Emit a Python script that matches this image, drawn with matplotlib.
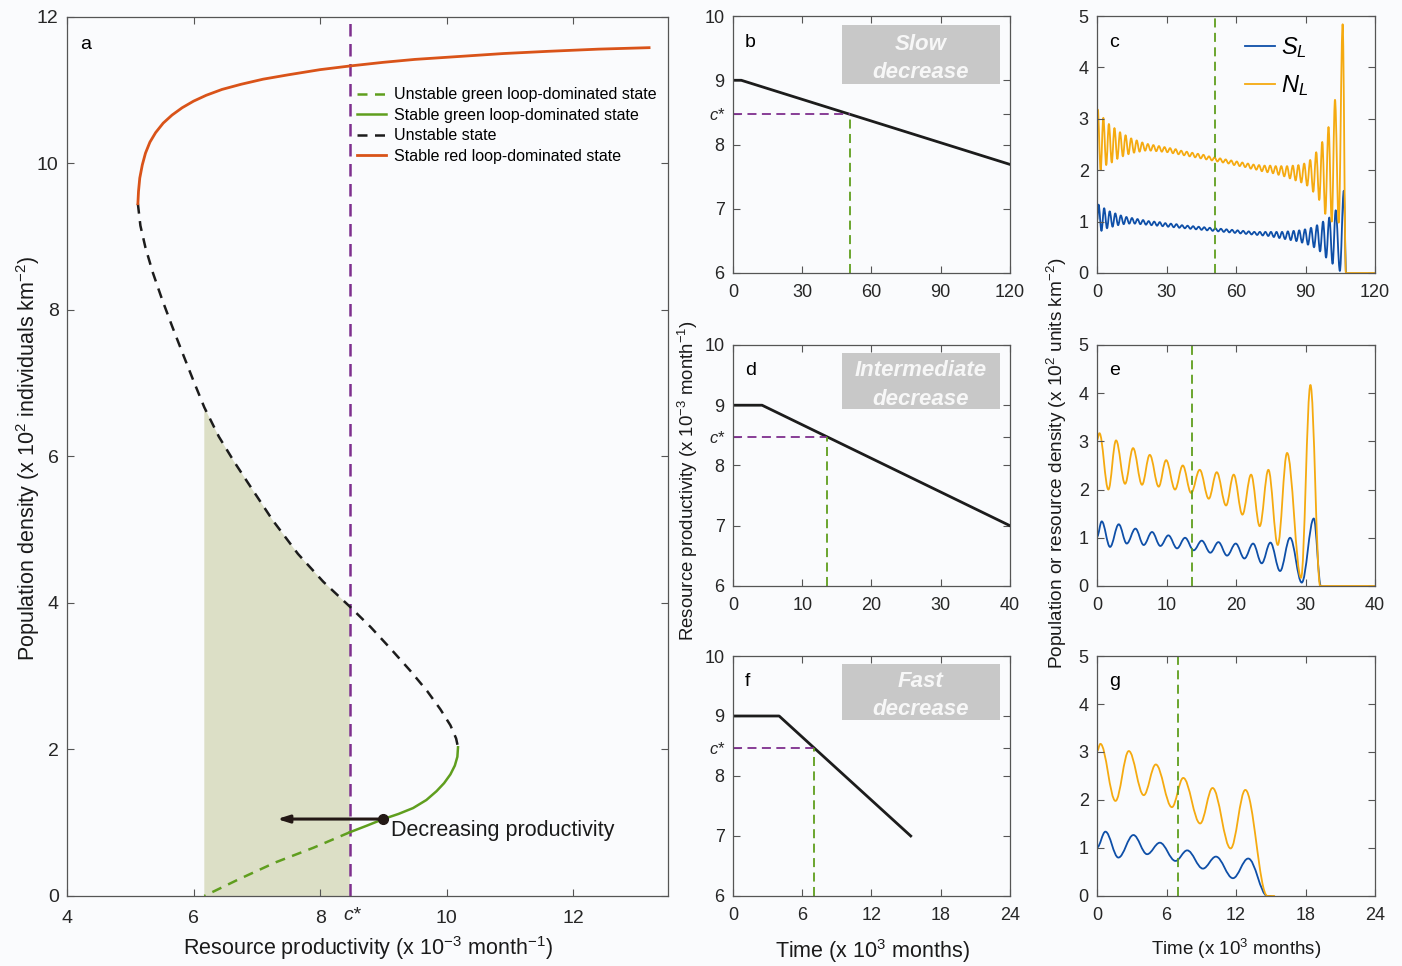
import matplotlib
matplotlib.use("Agg")
import matplotlib.pyplot as plt
from matplotlib.path import Path
from matplotlib.patches import PathPatch, Polygon

plt.rcParams['font.family'] = ['Liberation Sans', 'DejaVu Sans']
plt.rcParams['mathtext.fontset'] = 'custom'
plt.rcParams['mathtext.rm'] = 'Liberation Sans'
plt.rcParams['mathtext.it'] = 'Liberation Sans:italic'

# ---------------- data ----------------
c_star = 8.47

# panel a: equilibrium branches (productivity, density)
red_x = [5.12, 5.13, 5.15, 5.19, 5.24, 5.31, 5.40, 5.52, 5.66, 5.82, 6.00, 6.20, 6.45,
         6.75, 7.10, 7.50, 8.00, 8.47, 9.00, 9.50, 10.2, 10.9, 11.6, 12.4, 13.2]
red_y = [9.45, 9.62, 9.80, 9.98, 10.14, 10.29, 10.42, 10.55, 10.66, 10.76, 10.85, 10.93, 11.01,
         11.08, 11.15, 11.21, 11.28, 11.33, 11.38, 11.42, 11.46, 11.50, 11.53, 11.56, 11.58]
uns_x = [5.12, 5.16, 5.24, 5.36, 5.50, 5.66, 5.84, 6.00, 6.17, 6.40, 6.64, 6.86, 7.25, 7.65,
         8.05, 8.47, 8.80, 9.11, 9.42, 9.69, 9.90, 10.06, 10.15, 10.18]
uns_y = [9.45, 9.15, 8.85, 8.50, 8.15, 7.78, 7.38, 7.03, 6.67, 6.27, 5.93, 5.64, 5.13, 4.67,
         4.29, 3.95, 3.67, 3.38, 3.08, 2.80, 2.55, 2.33, 2.15, 2.03]
grn_x = [10.18, 10.17, 10.13, 10.06, 9.96, 9.84, 9.68, 9.47, 9.24, 9.00, 8.74, 8.47]
grn_y = [2.03, 1.90, 1.78, 1.66, 1.54, 1.43, 1.31, 1.20, 1.12, 1.05, 0.96, 0.87]
grn_dash_x = [8.47, 7.90, 7.30, 6.72, 6.17]
grn_dash_y = [0.87, 0.66, 0.46, 0.23, 0.0]
shade_left = 6.17
arrow_start = (9.0, 1.05)
arrow_end = (7.32, 1.05)

# panels b, d, f: productivity vs time
b_t = [0, 3.6, 120]
b_p = [9, 9, 7.69]
b_cross = 50.8
d_t = [0, 4.2, 40]
d_p = [9, 9, 7.0]
d_cross = 13.6
f_t = [0, 4.0, 15.4]
f_p = [9, 9, 7.0]
f_cross = 7.0

# panel c: extrema of N_L and S_L (slow decrease)
c_tN = [0, 0.3, 1.55, 2.7, 3.95, 5.1, 6.35, 7.5, 8.75, 9.9, 11.15, 12.3, 13.55, 14.7, 15.95,
        17.1, 18.35, 19.5, 20.75, 21.9, 23.15, 24.3, 25.55, 26.7, 27.95, 29.1, 30.35, 31.5,
        32.75, 33.9, 35.15, 36.3, 37.55, 38.7, 39.95, 41.1, 42.35, 43.5, 44.75, 45.9, 47.15,
        48.3, 49.55, 50.7, 51.95, 53.1, 54.35, 55.5, 56.75, 57.9, 59.15, 60.3, 61.55, 62.7,
        63.95, 65.1, 66.35, 67.5, 68.75, 69.9, 71.15, 72.3, 73.55, 74.7, 75.95, 77.1, 78.35,
        79.5, 80.8, 82.0, 83.25, 84.5, 85.7, 86.9, 88.15, 89.4, 90.7, 92.0, 93.3, 94.6, 95.9,
        97.2, 98.5, 99.9, 101.3, 102.7, 104.3, 106.0, 107.4, 120]
c_N = [3.05, 3.18, 2.00, 3.02, 2.10, 2.90, 2.15, 2.82, 2.22, 2.74, 2.27, 2.68, 2.31, 2.62, 2.34,
       2.58, 2.36, 2.54, 2.38, 2.51, 2.38, 2.49, 2.37, 2.47, 2.36, 2.45, 2.35, 2.43,
       2.33, 2.41, 2.31, 2.38, 2.29, 2.36, 2.27, 2.34, 2.25, 2.32, 2.23, 2.30, 2.21,
       2.27, 2.19, 2.25, 2.17, 2.23, 2.15, 2.21, 2.13, 2.19, 2.10, 2.17, 2.08, 2.15,
       2.06, 2.13, 2.03, 2.11, 2.01, 2.10, 1.98, 2.09, 1.96, 2.09, 1.94, 2.08, 1.91,
       2.08, 1.88, 2.08, 1.84, 2.09, 1.80, 2.10, 1.76, 2.13, 1.70, 2.20, 1.58, 2.35, 1.42,
       2.55, 1.15, 2.84, 1.00, 3.37, 0.98, 4.84, 0.0, 0.0]
c_tS = [0, 0.65, 1.9, 3.05, 4.3, 5.45, 6.7, 7.85, 9.1, 10.25, 11.5, 12.65, 13.9, 15.05, 16.3,
        17.45, 18.7, 19.85, 21.1, 22.25, 23.5, 24.65, 25.9, 27.05, 28.3, 29.45, 30.7, 31.85,
        33.1, 34.25, 35.5, 36.65, 37.9, 39.05, 40.3, 41.45, 42.7, 43.85, 45.1, 46.25, 47.5,
        48.65, 49.9, 51.05, 52.3, 53.45, 54.7, 55.85, 57.1, 58.25, 59.5, 60.65, 61.9, 63.05,
        64.3, 65.45, 66.7, 67.85, 69.1, 70.25, 71.5, 72.65, 73.9, 75.05, 76.3, 77.45, 78.7,
        79.85, 81.15, 82.35, 83.6, 84.85, 86.05, 87.25, 88.5, 89.75, 91.05, 92.35, 93.65,
        94.95, 96.25, 97.55, 98.85, 100.25, 101.65, 103.0, 104.8, 106.5, 107.5]
c_S = [1.02, 1.33, 0.82, 1.26, 0.87, 1.20, 0.90, 1.16, 0.93, 1.12, 0.95, 1.09, 0.96, 1.07, 0.96,
       1.05, 0.95, 1.03, 0.94, 1.01, 0.93, 1.00, 0.92, 0.99, 0.91, 0.97, 0.90, 0.96,
       0.89, 0.95, 0.88, 0.93, 0.87, 0.92, 0.86, 0.91, 0.85, 0.90, 0.84, 0.89, 0.83,
       0.88, 0.82, 0.87, 0.81, 0.86, 0.80, 0.85, 0.79, 0.84, 0.78, 0.83, 0.77, 0.82,
       0.76, 0.81, 0.75, 0.80, 0.74, 0.80, 0.73, 0.80, 0.72, 0.80, 0.70, 0.80, 0.68,
       0.80, 0.66, 0.81, 0.64, 0.82, 0.62, 0.83, 0.59, 0.85, 0.55, 0.88, 0.50,
       0.93, 0.42, 1.00, 0.30, 1.08, 0.18, 1.22, 0.04, 1.60, 0.0]

# panel e: intermediate decrease
e_tN = [0, 0.34, 1.63, 2.73, 4.03, 5.18, 6.47, 7.58, 8.87, 9.93, 11.22, 12.33, 13.53, 14.77,
        16.07, 17.22, 18.56, 19.66, 20.91, 22.16, 23.4, 24.65, 26.0, 27.34, 29.35, 30.7,
        32.1, 40]
e_N = [3.03, 3.17, 2.00, 3.02, 2.12, 2.86, 2.10, 2.72, 2.06, 2.61, 2.00, 2.50, 1.93, 2.41,
       1.81, 2.36, 1.67, 2.31, 1.48, 2.31, 1.24, 2.41, 0.85, 2.76, 0.17, 4.17,
       0.0, 0.0]
e_tS = [0, 0.67, 1.87, 3.12, 4.27, 5.52, 6.71, 7.91, 9.11, 10.26, 11.51, 12.66, 13.9, 15.06,
        16.3, 17.46, 18.7, 19.95, 21.2, 22.45, 23.69, 24.94, 26.33, 27.77, 29.45, 31.18, 32.2]
e_S = [1.02, 1.34, 0.81, 1.28, 0.88, 1.19, 0.85, 1.12, 0.83, 1.05, 0.78, 1.00, 0.74, 0.94,
       0.69, 0.91, 0.63, 0.88, 0.57, 0.88, 0.47, 0.90, 0.31, 1.00, 0.07, 1.40, 0.0]

# panel g: fast decrease
g_tN = [0, 0.29, 1.59, 2.74, 4.03, 5.07, 6.46, 7.44, 8.9, 9.97, 11.53, 12.8, 14.7, 15.3]
g_N = [3.02, 3.17, 1.98, 3.02, 2.10, 2.74, 1.85, 2.46, 1.51, 2.25, 0.99, 2.21, 0.0, 0.0]
g_tS = [0, 0.72, 1.84, 3.14, 4.32, 5.42, 6.77, 7.78, 9.14, 10.26, 11.73, 13.05, 14.7, 15.0]
g_S = [1.01, 1.34, 0.80, 1.27, 0.87, 1.11, 0.73, 0.95, 0.57, 0.82, 0.37, 0.78, 0.0, 0.0]

# ---------------- style ----------------
bg = '#fafbfd'
red = '#d95319'
green = '#5f9e1e'
purple = '#7e2f8e'
blue = '#0e4fa8'
orange = '#f5aa10'
dark = '#1c1c1c'


def style(ax, fs, pad):
    ax.set_facecolor(bg)
    ax.tick_params(direction='in', top=True, right=True, length=5, width=0.8,
                   labelsize=fs, color='#555555', labelcolor='#262626')
    ax.tick_params(axis='x', pad=pad)
    ax.tick_params(axis='y', pad=6)
    for s in ax.spines.values():
        s.set_color('#555555')
        s.set_linewidth(0.9)


def wave(ax, t, v, color, lw=1.3):
    # smooth curve through the read extrema (flat tangents at each point)
    verts = [(t[0], v[0])]
    codes = [Path.MOVETO]
    for i in range(1, len(t)):
        dx = t[i] - t[i - 1]
        verts += [(t[i - 1] + 0.364 * dx, v[i - 1]), (t[i] - 0.364 * dx, v[i]), (t[i], v[i])]
        codes += [Path.CURVE4] * 3
    ax.add_patch(PathPatch(Path(verts, codes), fill=False, edgecolor=color, lw=lw,
                           capstyle='round', joinstyle='round'))


fig = plt.figure(figsize=(14.02, 9.66), dpi=100, facecolor=bg)

# ---------------- panel a ----------------
ax = fig.add_axes([0.0478, 0.0725, 0.4287, 0.910])
style(ax, 14, 10)
shade = [(shade_left, 0)]
for x, y in zip(uns_x, uns_y):
    if shade_left <= x <= c_star:
        shade.append((x, y))
shade += [(c_star, 0)]
ax.add_patch(Polygon(shade, closed=True, facecolor='#dcdfc6', edgecolor='none', zorder=1))
ax.axvline(c_star, color=purple, lw=1.8, ls=(0, (5, 3)), zorder=2)
l1, = ax.plot(grn_dash_x, grn_dash_y, color=green, lw=1.8, ls=(0, (4, 3)), zorder=3)
l2, = ax.plot(grn_x, grn_y, color=green, lw=1.8, zorder=3)
l3, = ax.plot(uns_x, uns_y, color=dark, lw=1.8, ls=(0, (4, 3)), zorder=3)
l4, = ax.plot(red_x, red_y, color=red, lw=2.0, zorder=3)
ax.annotate('', xy=arrow_end, xytext=arrow_start,
            arrowprops=dict(arrowstyle='-|>,head_length=0.7,head_width=0.22',
                            color='#231815', lw=2.2, shrinkA=0, shrinkB=0), zorder=4)
ax.plot([arrow_start[0]], [arrow_start[1]], 'o', color='#231815', ms=7, zorder=5)
ax.text(arrow_start[0] + 0.12, arrow_start[1] - 0.16, 'Decreasing productivity',
        fontsize=15.5, color='#1a1a1a', va='center', ha='left')
ax.legend([l1, l2, l3, l4],
          ['Unstable green loop-dominated state', 'Stable green loop-dominated state',
           'Unstable state', 'Stable red loop-dominated state'],
          loc='upper left', bbox_to_anchor=(0.483, 0.92), frameon=False, fontsize=11.5,
          handlelength=1.8, handletextpad=0.5, labelspacing=0.35, borderpad=0,
          borderaxespad=0)
ax.set_xlim(4, 13.5)
ax.set_ylim(0, 12)
ax.set_xticks([4, 6, 8, 10, 12])
ax.set_yticks([0, 2, 4, 6, 8, 10, 12])
ax.text(c_star + 0.03, -0.155, 'c*', fontsize=14, style='italic', ha='center', va='top',
        color='#262626')
ax.text(0.022, 0.978, 'a', transform=ax.transAxes, fontsize=14, va='top', ha='left')

# ---------------- panels b, d, f ----------------
mid = [
    (0.7174, 0.2660, b_t, b_p, b_cross, [0, 30, 60, 90, 120], 'b', 'Slow\ndecrease'),
    (0.3934, 0.2495, d_t, d_p, d_cross, [0, 10, 20, 30, 40], 'd', 'Intermediate\ndecrease'),
    (0.0725, 0.2484, f_t, f_p, f_cross, [0, 6, 12, 18, 24], 'f', 'Fast\ndecrease'),
]
for bottom, height, t, p, cross, xt, lab, box in mid:
    ax = fig.add_axes([0.5228, bottom, 0.1976, height])
    style(ax, 13, 8)
    ax.plot(t, p, color=dark, lw=2.0)
    ax.plot([0, cross], [c_star, c_star], color=purple, lw=1.3, ls=(0, (5, 3)))
    ax.plot([cross, cross], [6, c_star], color=green, lw=1.3, ls=(0, (5, 3)))
    ax.set_xlim(xt[0], xt[-1])
    ax.set_ylim(6, 10)
    ax.set_xticks(xt)
    ax.set_yticks([6, 7, 8, c_star, 9, 10])
    ax.set_yticklabels(['6', '7', '8', 'c*', '9', '10'])
    ax.get_yticklabels()[3].set_fontstyle('italic')
    ax.get_yticklabels()[3].set_fontsize(12)
    ax.text(0.043, 0.93, lab, transform=ax.transAxes, fontsize=14, va='top', ha='left')
    ax.add_patch(plt.Rectangle((0.392, 0.735), 0.572, 0.232, transform=ax.transAxes,
                               facecolor='#c8c8c8', edgecolor='none'))
    ax.text(0.678, 0.834, box, transform=ax.transAxes, fontsize=16, color='#f7f7f7',
            fontweight='bold', style='italic', ha='center', va='center', linespacing=1.45)

# ---------------- panels c, e, g ----------------
right = [
    (0.7174, 0.2660, c_tN, c_N, c_tS, c_S, b_cross, [0, 30, 60, 90, 120], 'c'),
    (0.3934, 0.2495, e_tN, e_N, e_tS, e_S, d_cross, [0, 10, 20, 30, 40], 'e'),
    (0.0725, 0.2484, g_tN, g_N, g_tS, g_S, f_cross, [0, 6, 12, 18, 24], 'g'),
]
for bottom, height, tN, N, tS, S, cross, xt, lab in right:
    ax = fig.add_axes([0.7825, bottom, 0.1983, height])
    style(ax, 13, 8)
    ax.axvline(cross, color=green, lw=1.3, ls=(0, (5, 3)))
    wave(ax, tS, S, blue)
    wave(ax, tN, N, orange)
    ax.set_xlim(xt[0], xt[-1])
    ax.set_ylim(0, 5)
    ax.set_xticks(xt)
    ax.set_yticks([0, 1, 2, 3, 4, 5])
    ax.text(0.043, 0.93, lab, transform=ax.transAxes, fontsize=14, va='top', ha='left')
    if lab == 'c':
        hS, = ax.plot([], [], color=blue, lw=1.3)
        hN, = ax.plot([], [], color=orange, lw=1.3)
        ax.legend([hS, hN], ['$S_L$', '$N_L$'], loc='upper left',
                  bbox_to_anchor=(0.532, 0.925), frameon=False, fontsize=17,
                  handlelength=1.28, handletextpad=0.25, labelspacing=0.55,
                  borderpad=0, borderaxespad=0)

# ---------------- shared labels ----------------
fig.text(28 / 1402, 1 - 458 / 966,
         'Population density (x 10$^2$ individuals km$^{-2}$)',
         rotation=90, ha='center', va='center', fontsize=15.5, color='#1a1a1a')
fig.text(368 / 1402, 1 - 948 / 966,
         'Resource productivity (x 10$^{-3}$ month$^{-1}$)',
         ha='center', va='center', fontsize=15.5, color='#1a1a1a')
fig.text(688 / 1402, 1 - 481 / 966,
         'Resource productivity (x 10$^{-3}$ month$^{-1}$)',
         rotation=90, ha='center', va='center', fontsize=13.4, color='#1a1a1a')
fig.text(872 / 1402, 1 - 951 / 966, 'Time (x 10$^3$ months)',
         ha='center', va='center', fontsize=15.5, color='#1a1a1a')
fig.text(1057 / 1402, 1 - 463 / 966,
         'Population or resource density (x 10$^2$ units km$^{-2}$)',
         rotation=90, ha='center', va='center', fontsize=13.7, color='#1a1a1a')
fig.text(1236 / 1402, 1 - 949 / 966, 'Time (x 10$^3$ months)',
         ha='center', va='center', fontsize=13.5, color='#1a1a1a')

fig.savefig('out.png', dpi=100, facecolor=bg)
